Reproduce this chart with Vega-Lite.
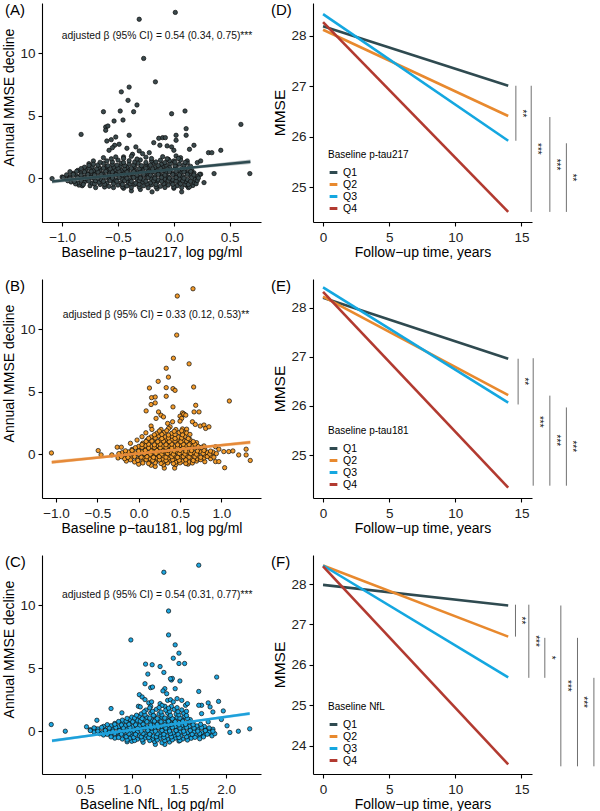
{
"$schema":"https://vega.github.io/schema/vega-lite/v6.json",
"background":"white",
"padding":{"left":2,"top":3,"right":0,"bottom":0},
"columns":2,
"spacing":{"row":57,"column":52},
"bounds":"flush",
"resolve":{"scale":{"x":"independent","y":"independent","color":"independent"},"legend":{"color":"independent"}},
"config":{
 "font":"Liberation Sans",
 "view":{"stroke":null},
 "axis":{"grid":false,"domainColor":"#000","domainWidth":1.1,"tickColor":"#000","tickWidth":1.1,"tickSize":4,"labelColor":"#222","labelFontSize":13.5,"titleFontSize":14,"titleFontWeight":"normal","titleColor":"#000","labelFont":"Liberation Sans","titleFont":"Liberation Sans","labelFlush":false},
 "axisX":{"labelPadding":4,"titlePadding":1.5},
 "axisY":{"labelPadding":3,"titlePadding":3,"titleFontSize":14},
 "legend":{"orient":"none","titleFontSize":10,"titleFontWeight":"normal","labelFontSize":10.5,"symbolType":"stroke","symbolStrokeWidth":3,"symbolSize":60,"rowPadding":-4.8,"titlePadding":7,"labelOffset":4,"titleColor":"#000","labelColor":"#000","padding":0},
 "title":{"fontSize":15,"fontWeight":"normal","anchor":"start","frame":"group","baseline":"top","offset":-15,"color":"#000"}
},
"datasets":{
"a":[
{"x":0.013,"y":13.25},{"x":-0.31,"y":12.7},{"x":-0.27,"y":9.57},{"x":-0.165,"y":7.7},{"x":-0.4,"y":7.28},{"x":-0.47,"y":6.9},{"x":-0.41,"y":6.22},{"x":-0.33,"y":5.85},{"x":-0.48,"y":5.37},{"x":-0.36,"y":5.31},{"x":-0.63,"y":5.31},{"x":0.1,"y":5.37},{"x":-0.02,"y":5.15},{"x":-0.455,"y":4.65},{"x":-0.535,"y":4.57},{"x":-0.61,"y":4.09},{"x":-0.59,"y":4.17},{"x":-0.61,"y":3.83},{"x":0.6,"y":4.3},{"x":-0.83,"y":3.5},{"x":-0.4,"y":3.43},{"x":0.11,"y":3.96},{"x":0.11,"y":3.43},{"x":0.02,"y":3.43},{"x":0.02,"y":3.03},{"x":-0.135,"y":3.19},{"x":-0.1,"y":3.24},{"x":-0.076,"y":3.24},{"x":-0.18,"y":2.84},{"x":-0.125,"y":2.63},{"x":-0.6,"y":2.97},{"x":-0.56,"y":3.08},{"x":-0.52,"y":3.29},{"x":-0.53,"y":2.63},{"x":-0.49,"y":2.71},{"x":-0.55,"y":2.44},{"x":-0.58,"y":2.23},{"x":-0.06,"y":2.58},{"x":-0.02,"y":2.5},{"x":0.0,"y":2.23},{"x":0.18,"y":2.63},{"x":0.14,"y":2.31},{"x":0.31,"y":2.04},{"x":0.34,"y":2.04},{"x":0.42,"y":2.23},{"x":-0.42,"y":2.39},{"x":-0.34,"y":2.5},{"x":-0.31,"y":2.18},{"x":-0.28,"y":1.96},{"x":-0.22,"y":2.04},{"x":-0.37,"y":1.91},{"x":-0.45,"y":1.7},{"x":-0.63,"y":1.64},{"x":-0.76,"y":1.16},{"x":-0.72,"y":1.38},{"x":-0.05,"y":1.51},{"x":0.0,"y":1.38},{"x":0.06,"y":1.64},{"x":0.12,"y":1.38},{"x":0.21,"y":1.25},{"x":0.24,"y":1.38},{"x":0.24,"y":0.32},{"x":0.36,"y":0.37},{"x":0.68,"y":0.37},{"x":-1.09,"y":-0.03},{"x":-1.0,"y":0.1},{"x":-0.38,"y":-1.01},{"x":-0.195,"y":-1.09},{"x":0.07,"y":-1.09},{"x":0.12,"y":-0.61},{"x":-0.82,"y":-0.6},{"x":-0.7,"y":-0.75},{"x":0.27,"y":-0.35},{"x":0.23,"y":0.3},
{"x":-0.45,"y":-0.8},{"x":-0.3,"y":-0.9},{"x":-0.15,"y":-0.85},{"x":0.0,"y":-0.8},{"x":0.13,"y":-0.75},
{"x":-0.85,"y":-0.55},{"x":-0.75,"y":-0.6},{"x":-0.66,"y":-0.5},{"x":-0.58,"y":-0.65},{"x":-0.5,"y":-0.55},{"x":-0.42,"y":-0.62},{"x":-0.35,"y":-0.5},{"x":-0.27,"y":-0.6},{"x":-0.2,"y":-0.52},{"x":-0.12,"y":-0.65},{"x":-0.05,"y":-0.55},{"x":0.03,"y":-0.6},{"x":0.1,"y":-0.5},{"x":0.17,"y":-0.58},
{"x":-0.92,"y":-0.3},{"x":-0.86,"y":-0.38},{"x":-0.8,"y":-0.3},{"x":-0.73,"y":-0.4},{"x":-0.67,"y":-0.32},{"x":-0.6,"y":-0.38},{"x":-0.54,"y":-0.28},{"x":-0.47,"y":-0.36},{"x":-0.41,"y":-0.3},{"x":-0.34,"y":-0.4},{"x":-0.28,"y":-0.3},{"x":-0.21,"y":-0.37},{"x":-0.15,"y":-0.3},{"x":-0.08,"y":-0.4},{"x":-0.02,"y":-0.32},{"x":0.05,"y":-0.36},{"x":0.11,"y":-0.28},{"x":0.18,"y":-0.35},
{"x":-0.96,"y":-0.05},{"x":-0.9,"y":-0.12},{"x":-0.83,"y":-0.08},{"x":-0.77,"y":-0.14},{"x":-0.71,"y":-0.06},{"x":-0.65,"y":-0.12},{"x":-0.58,"y":-0.05},{"x":-0.52,"y":-0.13},{"x":-0.46,"y":-0.07},{"x":-0.39,"y":-0.12},{"x":-0.33,"y":-0.05},{"x":-0.27,"y":-0.1},{"x":-0.2,"y":-0.06},{"x":-0.14,"y":-0.13},{"x":-0.08,"y":-0.07},{"x":-0.01,"y":-0.12},{"x":0.05,"y":-0.05},{"x":0.12,"y":-0.1},{"x":0.19,"y":-0.08},
{"x":-0.93,"y":0.12},{"x":-0.87,"y":0.18},{"x":-0.8,"y":0.1},{"x":-0.74,"y":0.2},{"x":-0.68,"y":0.13},{"x":-0.62,"y":0.18},{"x":-0.55,"y":0.1},{"x":-0.49,"y":0.2},{"x":-0.43,"y":0.14},{"x":-0.37,"y":0.19},{"x":-0.3,"y":0.11},{"x":-0.24,"y":0.2},{"x":-0.17,"y":0.13},{"x":-0.11,"y":0.18},{"x":-0.05,"y":0.1},{"x":0.02,"y":0.19},{"x":0.08,"y":0.12},{"x":0.15,"y":0.2},{"x":0.21,"y":0.15},
{"x":-0.9,"y":0.38},{"x":-0.83,"y":0.42},{"x":-0.77,"y":0.36},{"x":-0.71,"y":0.45},{"x":-0.64,"y":0.38},{"x":-0.58,"y":0.43},{"x":-0.52,"y":0.36},{"x":-0.45,"y":0.44},{"x":-0.39,"y":0.37},{"x":-0.33,"y":0.43},{"x":-0.26,"y":0.36},{"x":-0.2,"y":0.45},{"x":-0.14,"y":0.38},{"x":-0.07,"y":0.42},{"x":-0.01,"y":0.36},{"x":0.06,"y":0.44},{"x":0.12,"y":0.4},{"x":0.18,"y":0.43},
{"x":-0.86,"y":0.62},{"x":-0.79,"y":0.68},{"x":-0.72,"y":0.6},{"x":-0.66,"y":0.7},{"x":-0.6,"y":0.63},{"x":-0.53,"y":0.68},{"x":-0.47,"y":0.61},{"x":-0.41,"y":0.7},{"x":-0.35,"y":0.64},{"x":-0.28,"y":0.69},{"x":-0.22,"y":0.62},{"x":-0.16,"y":0.7},{"x":-0.09,"y":0.63},{"x":-0.03,"y":0.68},{"x":0.04,"y":0.62},{"x":0.1,"y":0.7},{"x":0.16,"y":0.65},
{"x":-0.8,"y":0.88},{"x":-0.73,"y":0.92},{"x":-0.67,"y":0.86},{"x":-0.6,"y":0.94},{"x":-0.54,"y":0.88},{"x":-0.48,"y":0.93},{"x":-0.42,"y":0.86},{"x":-0.35,"y":0.95},{"x":-0.29,"y":0.88},{"x":-0.23,"y":0.93},{"x":-0.17,"y":0.87},{"x":-0.1,"y":0.94},{"x":-0.04,"y":0.88},{"x":0.02,"y":0.93},{"x":0.09,"y":0.87},{"x":0.15,"y":0.95},
{"x":-0.72,"y":1.12},{"x":-0.63,"y":1.18},{"x":-0.55,"y":1.1},{"x":-0.47,"y":1.2},{"x":-0.4,"y":1.13},{"x":-0.32,"y":1.19},{"x":-0.25,"y":1.11},{"x":-0.18,"y":1.2},{"x":-0.11,"y":1.14},{"x":-0.03,"y":1.18},{"x":0.05,"y":1.12},{"x":0.12,"y":1.2},
{"x":-0.6,"y":1.38},{"x":-0.5,"y":1.45},{"x":-0.4,"y":1.4},{"x":-0.3,"y":1.46},{"x":-0.2,"y":1.38},{"x":-0.12,"y":1.44},{"x":-0.04,"y":1.4},{"x":0.06,"y":1.45},
{"x":-0.52,"y":1.7},{"x":-0.38,"y":1.75},{"x":-0.25,"y":1.68},{"x":-0.1,"y":1.72},{"x":0.02,"y":1.78},
{"x":-0.62,"y":-0.7},{"x":-0.54,"y":-0.75},{"x":-0.46,"y":-0.69},{"x":-0.38,"y":-0.74},{"x":-0.31,"y":-0.7},{"x":-0.23,"y":-0.76},{"x":-0.16,"y":-0.69},{"x":-0.08,"y":-0.74},{"x":0.0,"y":-0.7},{"x":0.07,"y":-0.75},{"x":0.14,"y":-0.69},
{"x":-0.88,"y":-0.45},{"x":-0.81,"y":-0.5},{"x":-0.71,"y":-0.44},{"x":-0.62,"y":-0.49},{"x":-0.54,"y":-0.45},{"x":-0.46,"y":-0.5},{"x":-0.39,"y":-0.44},{"x":-0.31,"y":-0.49},{"x":-0.24,"y":-0.45},{"x":-0.16,"y":-0.5},{"x":-0.09,"y":-0.44},{"x":-0.01,"y":-0.49},{"x":0.06,"y":-0.45},{"x":0.13,"y":-0.5},{"x":0.2,"y":-0.44},
{"x":-0.95,"y":-0.2},{"x":-0.89,"y":-0.25},{"x":-0.83,"y":-0.19},{"x":-0.76,"y":-0.24},{"x":-0.7,"y":-0.2},{"x":-0.63,"y":-0.25},{"x":-0.57,"y":-0.19},{"x":-0.51,"y":-0.24},{"x":-0.44,"y":-0.2},{"x":-0.38,"y":-0.25},{"x":-0.31,"y":-0.19},{"x":-0.25,"y":-0.24},{"x":-0.18,"y":-0.2},{"x":-0.11,"y":-0.25},{"x":-0.05,"y":-0.19},{"x":0.02,"y":-0.24},{"x":0.08,"y":-0.2},{"x":0.15,"y":-0.25},{"x":0.21,"y":-0.19},
{"x":-0.99,"y":0.05},{"x":-0.93,"y":0.0},{"x":-0.86,"y":0.06},{"x":-0.8,"y":0.01},{"x":-0.74,"y":0.05},{"x":-0.68,"y":0.0},{"x":-0.61,"y":0.06},{"x":-0.55,"y":0.01},{"x":-0.49,"y":0.05},{"x":-0.42,"y":0.0},{"x":-0.36,"y":0.06},{"x":-0.3,"y":0.01},{"x":-0.23,"y":0.05},{"x":-0.17,"y":0.0},{"x":-0.11,"y":0.06},{"x":-0.04,"y":0.01},{"x":0.02,"y":0.05},{"x":0.09,"y":0.0},{"x":0.16,"y":0.06},{"x":0.22,"y":0.02},
{"x":-0.96,"y":0.27},{"x":-0.9,"y":0.3},{"x":-0.83,"y":0.25},{"x":-0.77,"y":0.3},{"x":-0.71,"y":0.26},{"x":-0.65,"y":0.3},{"x":-0.58,"y":0.25},{"x":-0.52,"y":0.29},{"x":-0.46,"y":0.26},{"x":-0.4,"y":0.3},{"x":-0.33,"y":0.25},{"x":-0.27,"y":0.29},{"x":-0.21,"y":0.26},{"x":-0.14,"y":0.3},{"x":-0.08,"y":0.25},{"x":-0.01,"y":0.29},{"x":0.05,"y":0.26},{"x":0.12,"y":0.3},{"x":0.18,"y":0.26},
{"x":-0.93,"y":0.52},{"x":-0.87,"y":0.55},{"x":-0.8,"y":0.5},{"x":-0.74,"y":0.55},{"x":-0.68,"y":0.51},{"x":-0.61,"y":0.55},{"x":-0.55,"y":0.5},{"x":-0.49,"y":0.54},{"x":-0.42,"y":0.51},{"x":-0.36,"y":0.55},{"x":-0.3,"y":0.5},{"x":-0.23,"y":0.54},{"x":-0.17,"y":0.51},{"x":-0.11,"y":0.55},{"x":-0.04,"y":0.5},{"x":0.02,"y":0.54},{"x":0.09,"y":0.51},{"x":0.15,"y":0.55},
{"x":-0.83,"y":0.77},{"x":-0.76,"y":0.8},{"x":-0.69,"y":0.75},{"x":-0.63,"y":0.8},{"x":-0.57,"y":0.76},{"x":-0.5,"y":0.8},{"x":-0.44,"y":0.75},{"x":-0.38,"y":0.79},{"x":-0.31,"y":0.76},{"x":-0.25,"y":0.8},{"x":-0.19,"y":0.75},{"x":-0.12,"y":0.79},{"x":-0.06,"y":0.76},{"x":0.01,"y":0.8},{"x":0.07,"y":0.75},{"x":0.13,"y":0.79},
{"x":-0.76,"y":1.02},{"x":-0.68,"y":1.05},{"x":-0.59,"y":1.0},{"x":-0.51,"y":1.04},{"x":-0.44,"y":1.01},{"x":-0.36,"y":1.05},{"x":-0.29,"y":1.0},{"x":-0.21,"y":1.04},{"x":-0.14,"y":1.01},{"x":-0.07,"y":1.05},{"x":0.01,"y":1.0},{"x":0.09,"y":1.04},
{"x":-0.66,"y":1.27},{"x":-0.55,"y":1.3},{"x":-0.45,"y":1.25},{"x":-0.35,"y":1.3},{"x":-0.25,"y":1.26},{"x":-0.16,"y":1.3},{"x":-0.08,"y":1.25},{"x":0.01,"y":1.29},{"x":0.1,"y":1.26},
{"x":-0.56,"y":1.55},{"x":-0.45,"y":1.58},{"x":-0.33,"y":1.53},{"x":-0.2,"y":1.57},{"x":-0.06,"y":1.55},{"x":0.04,"y":1.58}
],
"b":[
{"x":0.657,"y":13.22},{"x":0.467,"y":12.64},{"x":0.46,"y":9.52},{"x":0.42,"y":7.67},{"x":0.61,"y":7.22},{"x":0.333,"y":6.87},{"x":0.36,"y":6.16},{"x":0.236,"y":5.82},{"x":0.665,"y":5.37},{"x":0.13,"y":5.29},{"x":0.333,"y":5.32},{"x":0.415,"y":5.24},{"x":0.44,"y":5.1},{"x":0.333,"y":4.63},{"x":0.156,"y":4.52},{"x":0.2,"y":4.57},{"x":0.15,"y":3.97},{"x":0.2,"y":4.1},{"x":1.097,"y":4.25},{"x":0.09,"y":3.46},{"x":0.415,"y":3.78},{"x":0.69,"y":3.91},{"x":0.67,"y":3.38},{"x":0.73,"y":3.38},{"x":0.53,"y":3.3},{"x":0.55,"y":3.2},{"x":0.24,"y":3.38},{"x":0.27,"y":3.12},{"x":0.3,"y":2.98},{"x":0.21,"y":2.86},{"x":0.5,"y":3.04},{"x":0.52,"y":2.86},{"x":0.545,"y":3.2},{"x":0.57,"y":3.12},{"x":0.5,"y":2.64},{"x":0.65,"y":2.59},{"x":0.685,"y":2.38},{"x":0.745,"y":2.25},{"x":0.79,"y":2.33},{"x":0.81,"y":2.06},{"x":0.85,"y":2.19},{"x":0.58,"y":2.0},{"x":0.55,"y":1.7},{"x":0.35,"y":2.46},{"x":0.38,"y":2.19},{"x":0.41,"y":2.59},{"x":0.15,"y":2.25},{"x":0.16,"y":1.98},{"x":0.087,"y":1.71},{"x":-0.02,"y":1.13},{"x":0.04,"y":1.4},{"x":-0.1,"y":0.87},{"x":-0.26,"y":0.56},{"x":-0.21,"y":0.56},{"x":-0.49,"y":0.29},{"x":-0.455,"y":-0.05},{"x":-0.325,"y":-0.05},{"x":-1.056,"y":0.1},{"x":0.93,"y":0.6},{"x":0.97,"y":0.4},{"x":1.03,"y":0.21},{"x":1.09,"y":0.21},{"x":1.14,"y":0.26},{"x":1.21,"y":-0.06},{"x":1.3,"y":0.4},{"x":1.3,"y":-0.06},{"x":1.35,"y":-0.5},{"x":1.04,"y":-1.08},{"x":0.93,"y":-0.59},{"x":0.97,"y":-0.59},{"x":0.85,"y":-0.19},{"x":0.79,"y":0.66},{"x":0.2,"y":-0.98},{"x":0.435,"y":-1.11},{"x":0.59,"y":-0.77},{"x":0.455,"y":-0.59},{"x":0.31,"y":-1.11},
{"x":0.0,"y":-0.8},{"x":0.15,"y":-0.88},{"x":0.3,"y":-0.85},{"x":0.45,"y":-0.82},{"x":0.6,"y":-0.78},
{"x":-0.15,"y":-0.55},{"x":-0.05,"y":-0.62},{"x":0.05,"y":-0.55},{"x":0.13,"y":-0.63},{"x":0.21,"y":-0.56},{"x":0.29,"y":-0.62},{"x":0.37,"y":-0.55},{"x":0.45,"y":-0.63},{"x":0.53,"y":-0.57},{"x":0.61,"y":-0.62},{"x":0.7,"y":-0.55},{"x":0.8,"y":-0.6},
{"x":-0.25,"y":-0.3},{"x":-0.17,"y":-0.36},{"x":-0.09,"y":-0.3},{"x":-0.01,"y":-0.38},{"x":0.07,"y":-0.31},{"x":0.14,"y":-0.37},{"x":0.22,"y":-0.3},{"x":0.29,"y":-0.38},{"x":0.36,"y":-0.31},{"x":0.43,"y":-0.37},{"x":0.5,"y":-0.3},{"x":0.57,"y":-0.38},{"x":0.64,"y":-0.31},{"x":0.71,"y":-0.37},{"x":0.79,"y":-0.3},{"x":0.87,"y":-0.36},
{"x":-0.22,"y":-0.06},{"x":-0.14,"y":-0.12},{"x":-0.06,"y":-0.05},{"x":0.02,"y":-0.13},{"x":0.09,"y":-0.07},{"x":0.16,"y":-0.12},{"x":0.23,"y":-0.05},{"x":0.3,"y":-0.13},{"x":0.37,"y":-0.06},{"x":0.44,"y":-0.12},{"x":0.51,"y":-0.05},{"x":0.58,"y":-0.12},{"x":0.65,"y":-0.07},{"x":0.72,"y":-0.13},{"x":0.8,"y":-0.06},{"x":0.88,"y":-0.1},
{"x":-0.2,"y":0.12},{"x":-0.12,"y":0.18},{"x":-0.04,"y":0.11},{"x":0.04,"y":0.19},{"x":0.11,"y":0.13},{"x":0.18,"y":0.2},{"x":0.25,"y":0.11},{"x":0.32,"y":0.19},{"x":0.39,"y":0.12},{"x":0.46,"y":0.2},{"x":0.53,"y":0.13},{"x":0.6,"y":0.18},{"x":0.67,"y":0.11},{"x":0.75,"y":0.19},{"x":0.83,"y":0.13},{"x":0.9,"y":0.17},
{"x":-0.08,"y":0.38},{"x":0.0,"y":0.43},{"x":0.08,"y":0.36},{"x":0.15,"y":0.44},{"x":0.22,"y":0.37},{"x":0.29,"y":0.43},{"x":0.36,"y":0.36},{"x":0.43,"y":0.44},{"x":0.5,"y":0.37},{"x":0.57,"y":0.43},{"x":0.64,"y":0.36},{"x":0.72,"y":0.42},{"x":0.8,"y":0.38},
{"x":0.0,"y":0.62},{"x":0.08,"y":0.68},{"x":0.15,"y":0.61},{"x":0.22,"y":0.69},{"x":0.29,"y":0.62},{"x":0.36,"y":0.68},{"x":0.43,"y":0.61},{"x":0.5,"y":0.7},{"x":0.57,"y":0.63},{"x":0.64,"y":0.69},{"x":0.72,"y":0.62},
{"x":0.05,"y":0.88},{"x":0.13,"y":0.94},{"x":0.2,"y":0.87},{"x":0.27,"y":0.93},{"x":0.34,"y":0.86},{"x":0.41,"y":0.95},{"x":0.48,"y":0.88},{"x":0.55,"y":0.93},{"x":0.62,"y":0.87},{"x":0.7,"y":0.92},
{"x":0.1,"y":1.12},{"x":0.18,"y":1.19},{"x":0.26,"y":1.11},{"x":0.33,"y":1.2},{"x":0.4,"y":1.13},{"x":0.47,"y":1.18},{"x":0.54,"y":1.11},{"x":0.62,"y":1.18},
{"x":0.15,"y":1.38},{"x":0.24,"y":1.45},{"x":0.32,"y":1.38},{"x":0.4,"y":1.44},{"x":0.48,"y":1.37},{"x":0.56,"y":1.43},
{"x":0.22,"y":1.68},{"x":0.31,"y":1.74},{"x":0.4,"y":1.67},{"x":0.49,"y":1.73},{"x":0.58,"y":1.69},
{"x":0.27,"y":1.98},{"x":0.36,"y":2.05},{"x":0.45,"y":1.97},{"x":0.53,"y":2.02},
{"x":0.05,"y":-0.7},{"x":0.12,"y":-0.74},{"x":0.2,"y":-0.69},{"x":0.27,"y":-0.74},{"x":0.35,"y":-0.7},{"x":0.42,"y":-0.75},{"x":0.5,"y":-0.69},{"x":0.57,"y":-0.74},{"x":0.65,"y":-0.7},
{"x":-0.1,"y":-0.45},{"x":-0.01,"y":-0.5},{"x":0.09,"y":-0.44},{"x":0.17,"y":-0.49},{"x":0.25,"y":-0.45},{"x":0.33,"y":-0.5},{"x":0.41,"y":-0.44},{"x":0.49,"y":-0.49},{"x":0.57,"y":-0.45},{"x":0.66,"y":-0.5},{"x":0.75,"y":-0.44},
{"x":-0.21,"y":-0.2},{"x":-0.13,"y":-0.25},{"x":-0.05,"y":-0.19},{"x":0.03,"y":-0.24},{"x":0.1,"y":-0.2},{"x":0.18,"y":-0.25},{"x":0.25,"y":-0.19},{"x":0.33,"y":-0.24},{"x":0.4,"y":-0.2},{"x":0.47,"y":-0.25},{"x":0.54,"y":-0.19},{"x":0.61,"y":-0.24},{"x":0.68,"y":-0.2},{"x":0.75,"y":-0.25},{"x":0.83,"y":-0.19},{"x":0.91,"y":-0.24},
{"x":-0.24,"y":0.05},{"x":-0.16,"y":0.0},{"x":-0.08,"y":0.06},{"x":0.0,"y":0.01},{"x":0.07,"y":0.05},{"x":0.14,"y":0.0},{"x":0.21,"y":0.06},{"x":0.28,"y":0.01},{"x":0.35,"y":0.05},{"x":0.42,"y":0.0},{"x":0.49,"y":0.06},{"x":0.56,"y":0.01},{"x":0.63,"y":0.05},{"x":0.7,"y":0.0},{"x":0.78,"y":0.06},{"x":0.86,"y":0.01},{"x":0.94,"y":0.05},
{"x":-0.16,"y":0.27},{"x":-0.08,"y":0.3},{"x":0.0,"y":0.25},{"x":0.08,"y":0.3},{"x":0.15,"y":0.26},{"x":0.22,"y":0.3},{"x":0.29,"y":0.25},{"x":0.36,"y":0.29},{"x":0.43,"y":0.26},{"x":0.5,"y":0.3},{"x":0.57,"y":0.25},{"x":0.64,"y":0.29},{"x":0.71,"y":0.26},{"x":0.79,"y":0.3},{"x":0.87,"y":0.25},
{"x":-0.04,"y":0.52},{"x":0.04,"y":0.55},{"x":0.12,"y":0.5},{"x":0.19,"y":0.55},{"x":0.26,"y":0.51},{"x":0.33,"y":0.55},{"x":0.4,"y":0.5},{"x":0.47,"y":0.54},{"x":0.54,"y":0.51},{"x":0.61,"y":0.55},{"x":0.68,"y":0.5},{"x":0.76,"y":0.54},
{"x":0.04,"y":0.77},{"x":0.12,"y":0.8},{"x":0.19,"y":0.75},{"x":0.26,"y":0.8},{"x":0.33,"y":0.76},{"x":0.4,"y":0.8},{"x":0.47,"y":0.75},{"x":0.54,"y":0.79},{"x":0.61,"y":0.76},{"x":0.68,"y":0.8},
{"x":0.09,"y":1.02},{"x":0.16,"y":1.05},{"x":0.23,"y":1.0},{"x":0.3,"y":1.04},{"x":0.37,"y":1.01},{"x":0.44,"y":1.05},{"x":0.51,"y":1.0},{"x":0.58,"y":1.04},{"x":0.66,"y":1.01},
{"x":0.12,"y":1.27},{"x":0.2,"y":1.3},{"x":0.28,"y":1.25},{"x":0.36,"y":1.3},{"x":0.44,"y":1.26},{"x":0.52,"y":1.3},{"x":0.6,"y":1.25},
{"x":0.19,"y":1.55},{"x":0.28,"y":1.58},{"x":0.36,"y":1.53},{"x":0.44,"y":1.57},{"x":0.53,"y":1.55},{"x":0.62,"y":1.58},
{"x":0.25,"y":1.85},{"x":0.34,"y":1.88},{"x":0.43,"y":1.83},{"x":0.52,"y":1.87}
],
"c":[
{"x":1.71,"y":13.19},{"x":1.34,"y":12.63},{"x":1.39,"y":9.55},{"x":1.39,"y":7.65},{"x":0.99,"y":7.25},{"x":1.46,"y":6.86},{"x":1.5,"y":6.2},{"x":1.44,"y":5.8},{"x":1.146,"y":5.33},{"x":1.216,"y":5.28},{"x":1.3,"y":5.14},{"x":1.5,"y":5.38},{"x":1.56,"y":5.38},{"x":1.17,"y":4.54},{"x":1.34,"y":4.67},{"x":1.42,"y":4.07},{"x":1.43,"y":4.19},{"x":1.9,"y":4.3},{"x":0.146,"y":0.53},{"x":0.295,"y":0.0},{"x":2.25,"y":0.19},{"x":2.13,"y":0.0},{"x":2.04,"y":-0.1},{"x":2.01,"y":0.43},{"x":1.95,"y":0.93},{"x":1.97,"y":1.61},{"x":1.92,"y":2.37},{"x":1.81,"y":2.25},{"x":1.83,"y":1.93},{"x":1.86,"y":1.53},{"x":1.81,"y":0.74},{"x":1.83,"y":0.13},{"x":1.82,"y":-0.18},{"x":1.74,"y":2.06},{"x":1.71,"y":2.06},{"x":1.74,"y":1.4},{"x":1.71,"y":3.16},{"x":1.72,"y":-0.4},{"x":1.57,"y":2.06},{"x":1.59,"y":2.19},{"x":1.51,"y":3.99},{"x":1.41,"y":4.17},{"x":1.35,"y":3.38},{"x":1.33,"y":3.2},{"x":1.37,"y":2.98},{"x":1.46,"y":3.38},{"x":1.2,"y":3.46},{"x":1.22,"y":3.51},{"x":1.14,"y":3.77},{"x":1.08,"y":2.9},{"x":1.11,"y":2.72},{"x":1.14,"y":2.51},{"x":1.07,"y":1.98},{"x":1.09,"y":1.93},{"x":0.78,"y":1.8},{"x":0.63,"y":0.87},{"x":0.52,"y":0.35},{"x":0.61,"y":0.21},{"x":0.895,"y":1.46},{"x":0.95,"y":-0.84},{"x":1.25,"y":-1.05},{"x":1.35,"y":-1.05},{"x":1.32,"y":-0.92},{"x":1.18,"y":2.25},{"x":1.21,"y":2.33},{"x":1.3,"y":2.19},{"x":1.35,"y":1.98},{"x":1.38,"y":2.45},{"x":1.41,"y":2.5},{"x":1.44,"y":2.33},{"x":1.48,"y":2.59},{"x":1.53,"y":2.45},
{"x":1.0,"y":-0.8},{"x":1.12,"y":-0.88},{"x":1.24,"y":-0.82},{"x":1.4,"y":-0.86},{"x":1.5,"y":-0.78},
{"x":0.82,"y":-0.55},{"x":0.9,"y":-0.62},{"x":0.98,"y":-0.56},{"x":1.06,"y":-0.63},{"x":1.14,"y":-0.55},{"x":1.22,"y":-0.62},{"x":1.3,"y":-0.56},{"x":1.38,"y":-0.63},{"x":1.46,"y":-0.55},{"x":1.54,"y":-0.62},{"x":1.63,"y":-0.56},{"x":1.72,"y":-0.6},
{"x":0.7,"y":-0.3},{"x":0.78,"y":-0.37},{"x":0.86,"y":-0.31},{"x":0.93,"y":-0.38},{"x":1.0,"y":-0.3},{"x":1.08,"y":-0.37},{"x":1.15,"y":-0.31},{"x":1.23,"y":-0.38},{"x":1.3,"y":-0.3},{"x":1.37,"y":-0.37},{"x":1.45,"y":-0.31},{"x":1.52,"y":-0.38},{"x":1.6,"y":-0.3},{"x":1.68,"y":-0.36},{"x":1.76,"y":-0.32},{"x":1.85,"y":-0.37},
{"x":0.6,"y":-0.06},{"x":0.68,"y":-0.12},{"x":0.76,"y":-0.05},{"x":0.84,"y":-0.13},{"x":0.91,"y":-0.07},{"x":0.99,"y":-0.12},{"x":1.06,"y":-0.05},{"x":1.14,"y":-0.13},{"x":1.21,"y":-0.06},{"x":1.29,"y":-0.12},{"x":1.36,"y":-0.05},{"x":1.44,"y":-0.13},{"x":1.51,"y":-0.07},{"x":1.59,"y":-0.12},{"x":1.66,"y":-0.05},{"x":1.74,"y":-0.11},{"x":1.82,"y":-0.07},
{"x":0.56,"y":0.12},{"x":0.64,"y":0.18},{"x":0.72,"y":0.11},{"x":0.8,"y":0.19},{"x":0.87,"y":0.13},{"x":0.95,"y":0.2},{"x":1.02,"y":0.11},{"x":1.1,"y":0.19},{"x":1.17,"y":0.12},{"x":1.25,"y":0.2},{"x":1.32,"y":0.13},{"x":1.4,"y":0.18},{"x":1.47,"y":0.11},{"x":1.55,"y":0.19},{"x":1.62,"y":0.13},{"x":1.7,"y":0.18},{"x":1.78,"y":0.12},{"x":1.86,"y":0.16},
{"x":0.7,"y":0.38},{"x":0.78,"y":0.43},{"x":0.86,"y":0.36},{"x":0.93,"y":0.44},{"x":1.01,"y":0.37},{"x":1.08,"y":0.43},{"x":1.16,"y":0.36},{"x":1.23,"y":0.44},{"x":1.31,"y":0.37},{"x":1.38,"y":0.43},{"x":1.46,"y":0.36},{"x":1.53,"y":0.44},{"x":1.61,"y":0.38},{"x":1.69,"y":0.42},{"x":1.77,"y":0.37},
{"x":0.82,"y":0.62},{"x":0.9,"y":0.68},{"x":0.97,"y":0.61},{"x":1.05,"y":0.69},{"x":1.12,"y":0.62},{"x":1.2,"y":0.68},{"x":1.27,"y":0.61},{"x":1.35,"y":0.7},{"x":1.42,"y":0.63},{"x":1.5,"y":0.69},{"x":1.57,"y":0.62},{"x":1.65,"y":0.68},
{"x":0.9,"y":0.88},{"x":0.98,"y":0.94},{"x":1.06,"y":0.87},{"x":1.14,"y":0.93},{"x":1.22,"y":0.86},{"x":1.3,"y":0.95},{"x":1.38,"y":0.88},{"x":1.46,"y":0.93},{"x":1.54,"y":0.87},{"x":1.62,"y":0.92},
{"x":1.0,"y":1.12},{"x":1.08,"y":1.19},{"x":1.16,"y":1.11},{"x":1.24,"y":1.2},{"x":1.32,"y":1.13},{"x":1.4,"y":1.18},{"x":1.48,"y":1.11},{"x":1.56,"y":1.18},
{"x":1.1,"y":1.38},{"x":1.2,"y":1.45},{"x":1.29,"y":1.38},{"x":1.38,"y":1.44},{"x":1.47,"y":1.37},{"x":1.55,"y":1.43},
{"x":1.15,"y":1.68},{"x":1.26,"y":1.74},{"x":1.36,"y":1.67},{"x":1.45,"y":1.73},{"x":1.53,"y":1.69},
{"x":1.2,"y":1.98},{"x":1.32,"y":2.05},{"x":1.42,"y":1.97},
{"x":0.95,"y":-0.7},{"x":1.03,"y":-0.74},{"x":1.11,"y":-0.69},{"x":1.19,"y":-0.74},{"x":1.27,"y":-0.7},{"x":1.35,"y":-0.75},{"x":1.43,"y":-0.69},{"x":1.51,"y":-0.74},{"x":1.59,"y":-0.7},
{"x":0.78,"y":-0.45},{"x":0.86,"y":-0.5},{"x":0.94,"y":-0.44},{"x":1.02,"y":-0.49},{"x":1.1,"y":-0.45},{"x":1.18,"y":-0.5},{"x":1.26,"y":-0.44},{"x":1.34,"y":-0.49},{"x":1.42,"y":-0.45},{"x":1.5,"y":-0.5},{"x":1.58,"y":-0.44},{"x":1.67,"y":-0.49},{"x":1.76,"y":-0.45},
{"x":0.66,"y":-0.2},{"x":0.74,"y":-0.25},{"x":0.82,"y":-0.19},{"x":0.89,"y":-0.24},{"x":0.97,"y":-0.2},{"x":1.04,"y":-0.25},{"x":1.12,"y":-0.19},{"x":1.19,"y":-0.24},{"x":1.27,"y":-0.2},{"x":1.34,"y":-0.25},{"x":1.41,"y":-0.19},{"x":1.49,"y":-0.24},{"x":1.56,"y":-0.2},{"x":1.64,"y":-0.25},{"x":1.72,"y":-0.19},{"x":1.8,"y":-0.24},{"x":1.88,"y":-0.2},
{"x":0.56,"y":0.05},{"x":0.64,"y":0.0},{"x":0.72,"y":0.06},{"x":0.8,"y":0.01},{"x":0.87,"y":0.05},{"x":0.95,"y":0.0},{"x":1.02,"y":0.06},{"x":1.1,"y":0.01},{"x":1.17,"y":0.05},{"x":1.25,"y":0.0},{"x":1.32,"y":0.06},{"x":1.4,"y":0.01},{"x":1.47,"y":0.05},{"x":1.55,"y":0.0},{"x":1.62,"y":0.06},{"x":1.7,"y":0.01},{"x":1.78,"y":0.05},{"x":1.86,"y":0.0},
{"x":0.6,"y":0.27},{"x":0.68,"y":0.3},{"x":0.76,"y":0.25},{"x":0.83,"y":0.3},{"x":0.91,"y":0.26},{"x":0.98,"y":0.3},{"x":1.06,"y":0.25},{"x":1.13,"y":0.29},{"x":1.21,"y":0.26},{"x":1.28,"y":0.3},{"x":1.36,"y":0.25},{"x":1.43,"y":0.29},{"x":1.51,"y":0.26},{"x":1.58,"y":0.3},{"x":1.66,"y":0.25},{"x":1.74,"y":0.29},{"x":1.82,"y":0.26},
{"x":0.74,"y":0.52},{"x":0.82,"y":0.55},{"x":0.89,"y":0.5},{"x":0.97,"y":0.55},{"x":1.04,"y":0.51},{"x":1.12,"y":0.55},{"x":1.2,"y":0.5},{"x":1.27,"y":0.54},{"x":1.35,"y":0.51},{"x":1.42,"y":0.55},{"x":1.5,"y":0.5},{"x":1.57,"y":0.54},{"x":1.65,"y":0.51},{"x":1.73,"y":0.55},
{"x":0.86,"y":0.77},{"x":0.94,"y":0.8},{"x":1.01,"y":0.75},{"x":1.09,"y":0.8},{"x":1.16,"y":0.76},{"x":1.24,"y":0.8},{"x":1.31,"y":0.75},{"x":1.39,"y":0.79},{"x":1.46,"y":0.76},{"x":1.54,"y":0.8},{"x":1.61,"y":0.75},
{"x":0.95,"y":1.02},{"x":1.03,"y":1.05},{"x":1.11,"y":1.0},{"x":1.19,"y":1.04},{"x":1.27,"y":1.01},{"x":1.35,"y":1.05},{"x":1.43,"y":1.0},{"x":1.51,"y":1.04},{"x":1.59,"y":1.01},
{"x":1.05,"y":1.27},{"x":1.14,"y":1.3},{"x":1.23,"y":1.25},{"x":1.32,"y":1.3},{"x":1.41,"y":1.26},{"x":1.5,"y":1.3},{"x":1.58,"y":1.25},
{"x":1.13,"y":1.55},{"x":1.22,"y":1.58},{"x":1.31,"y":1.53},{"x":1.4,"y":1.57},{"x":1.49,"y":1.55},{"x":1.58,"y":1.58},
{"x":1.19,"y":1.85},{"x":1.29,"y":1.88},{"x":1.39,"y":1.83},{"x":1.48,"y":1.87}
],
"fit":[
{"p":"A","x":-1.09,"fit":-0.27,"lo":-0.43,"hi":-0.11},{"p":"A","x":-0.2,"fit":0.53,"lo":0.46,"hi":0.6},{"p":"A","x":0.685,"fit":1.32,"lo":1.14,"hi":1.5},
{"p":"B","x":-1.052,"fit":-0.64,"lo":-0.79,"hi":-0.49},{"p":"B","x":0.3,"fit":0.255,"lo":0.195,"hi":0.315},{"p":"B","x":1.35,"fit":0.95,"lo":0.8,"hi":1.1},
{"p":"C","x":0.154,"fit":-0.76,"lo":-0.89,"hi":-0.63},{"p":"C","x":1.2,"fit":0.318,"lo":0.268,"hi":0.368},{"p":"C","x":2.25,"fit":1.4,"lo":1.27,"hi":1.53}
],
"ann":[
{"p":"A","x":-0.15,"y":11.37,"t":"adjusted β (95% CI) = 0.54 (0.34, 0.75)***"},
{"p":"B","x":0.21,"y":11.1,"t":"adjusted β (95% CI) = 0.33 (0.12, 0.53)**"},
{"p":"C","x":1.27,"y":10.8,"t":"adjusted β (95% CI) = 0.54 (0.31, 0.77)***"}
],
"lines":[
{"p":"D","q":"Q1","t":0,"m":28.19},{"p":"D","q":"Q1","t":14,"m":27.01},
{"p":"D","q":"Q2","t":0,"m":28.12},{"p":"D","q":"Q2","t":14,"m":26.41},
{"p":"D","q":"Q3","t":0,"m":28.43},{"p":"D","q":"Q3","t":14,"m":25.92},
{"p":"D","q":"Q4","t":0,"m":28.27},{"p":"D","q":"Q4","t":14,"m":24.51},
{"p":"E","q":"Q1","t":0,"m":28.2},{"p":"E","q":"Q1","t":14,"m":26.96},
{"p":"E","q":"Q2","t":0,"m":28.22},{"p":"E","q":"Q2","t":14,"m":26.22},
{"p":"E","q":"Q3","t":0,"m":28.41},{"p":"E","q":"Q3","t":14,"m":26.07},
{"p":"E","q":"Q4","t":0,"m":28.32},{"p":"E","q":"Q4","t":14,"m":24.34},
{"p":"F","q":"Q1","t":0,"m":27.98},{"p":"F","q":"Q1","t":14,"m":27.47},
{"p":"F","q":"Q2","t":0,"m":28.46},{"p":"F","q":"Q2","t":14,"m":26.7},
{"p":"F","q":"Q3","t":0,"m":28.46},{"p":"F","q":"Q3","t":14,"m":25.69},
{"p":"F","q":"Q4","t":0,"m":28.44},{"p":"F","q":"Q4","t":14,"m":23.54}
],
"brk":[
{"p":"D","x":14.58,"y1":27.01,"y2":25.92,"ym":26.46,"s":"**"},
{"p":"D","x":15.74,"y1":27.01,"y2":24.51,"ym":25.76,"s":"***"},
{"p":"D","x":17.15,"y1":26.39,"y2":24.51,"ym":25.45,"s":"***"},
{"p":"D","x":18.4,"y1":25.87,"y2":24.51,"ym":25.19,"s":"**"},
{"p":"E","x":14.75,"y1":26.96,"y2":26.03,"ym":26.5,"s":"**"},
{"p":"E","x":15.89,"y1":26.97,"y2":24.38,"ym":25.68,"s":"***"},
{"p":"E","x":17.15,"y1":26.21,"y2":24.38,"ym":25.3,"s":"***"},
{"p":"E","x":18.4,"y1":25.97,"y2":24.38,"ym":25.18,"s":"***"},
{"p":"F","x":14.55,"y1":27.49,"y2":26.7,"ym":27.1,"s":"**"},
{"p":"F","x":15.56,"y1":27.49,"y2":25.68,"ym":26.59,"s":"***"},
{"p":"F","x":16.77,"y1":26.67,"y2":25.68,"ym":26.18,"s":"*"},
{"p":"F","x":17.98,"y1":27.47,"y2":23.49,"ym":25.48,"s":"***"},
{"p":"F","x":19.24,"y1":26.67,"y2":23.49,"ym":25.08,"s":"***"},
{"p":"F","x":20.48,"y1":25.68,"y2":23.49,"ym":24.59,"s":"***"}
]
},
"concat":[
{"width":219,"height":219,"title":{"text":"(A)","dx":-37},
 "layer":[
  {"data":{"name":"a"},"mark":{"type":"circle","size":19,"fill":"#3A494C","stroke":"#0d0d0d","strokeWidth":0.7,"opacity":1},
   "encoding":{"x":{"field":"x","type":"quantitative","scale":{"domain":[-1.18,0.78],"nice":false,"zero":false},"axis":{"values":[-1,-0.5,0,0.5],"format":".1f"},"title":"Baseline p−tau217, log pg/ml"},
   "y":{"field":"y","type":"quantitative","scale":{"domain":[-3.5,14],"nice":false,"zero":false},"axis":{"values":[0,5,10],"titleY":94},"title":"Annual MMSE decline"}}},
  {"data":{"name":"fit"},"transform":[{"filter":"datum.p==='A'"}],"mark":{"type":"area","color":"#7d8c90","opacity":0.55},
   "encoding":{"x":{"field":"x","type":"quantitative","scale":{"domain":[-1.18,0.78],"nice":false,"zero":false},"title":"Baseline p−tau217, log pg/ml"},
   "y":{"field":"lo","type":"quantitative","scale":{"domain":[-3.5,14],"nice":false,"zero":false},"title":"Annual MMSE decline"},"y2":{"field":"hi"}}},
  {"data":{"name":"fit"},"transform":[{"filter":"datum.p==='A'"}],"mark":{"type":"line","color":"#2E4A50","strokeWidth":2.6},
   "encoding":{"x":{"field":"x","type":"quantitative","scale":{"domain":[-1.18,0.78],"nice":false,"zero":false},"title":"Baseline p−tau217, log pg/ml"},
   "y":{"field":"fit","type":"quantitative","scale":{"domain":[-3.5,14],"nice":false,"zero":false},"title":"Annual MMSE decline"}}},
  {"data":{"name":"ann"},"transform":[{"filter":"datum.p==='A'"}],"mark":{"type":"text","fontSize":10.3,"color":"#111","align":"center","baseline":"middle"},
   "encoding":{"x":{"field":"x","type":"quantitative","scale":{"domain":[-1.18,0.78],"nice":false,"zero":false},"title":"Baseline p−tau217, log pg/ml"},
   "y":{"field":"y","type":"quantitative","scale":{"domain":[-3.5,14],"nice":false,"zero":false},"title":"Annual MMSE decline"},"text":{"field":"t"}}}
 ]},
{"width":219,"height":219,"title":{"text":"(D)","dx":-42},
 "layer":[
  {"data":{"name":"lines"},"transform":[{"filter":"datum.p==='D'"}],"mark":{"type":"line","strokeWidth":2.6},
   "encoding":{"x":{"field":"t","type":"quantitative","scale":{"domain":[-0.76,15.8],"nice":false,"zero":false},"axis":{"values":[0,5,10,15]},"title":"Follow−up time, years"},
   "y":{"field":"m","type":"quantitative","scale":{"domain":[24.31,28.65],"nice":false,"zero":false},"axis":{"values":[25,26,27,28],"titleFontSize":15.5},"title":"MMSE"},
   "color":{"field":"q","type":"nominal","scale":{"domain":["Q1","Q2","Q3","Q4"],"range":["#2F4A50","#E8892E","#14A7E0","#B23A30"]},"legend":{"title":"Baseline p-tau217","orient":"none","legendX":15,"legendY":147}}}},
  {"data":{"name":"brk"},"transform":[{"filter":"datum.p==='D'"}],"mark":{"type":"rule","color":"#707070","strokeWidth":1,"clip":false},
   "encoding":{"x":{"field":"x","type":"quantitative","scale":{"domain":[-0.76,15.8],"nice":false,"zero":false},"title":"Follow−up time, years"},
   "y":{"field":"y1","type":"quantitative","scale":{"domain":[24.31,28.65],"nice":false,"zero":false},"title":"MMSE"},"y2":{"field":"y2"}}},
  {"data":{"name":"brk"},"transform":[{"filter":"datum.p==='D'"}],"mark":{"type":"text","angle":90,"align":"center","baseline":"middle","dy":-6,"fontSize":10,"color":"#111","clip":false},
   "encoding":{"x":{"field":"x","type":"quantitative","scale":{"domain":[-0.76,15.8],"nice":false,"zero":false},"title":"Follow−up time, years"},
   "y":{"field":"ym","type":"quantitative","scale":{"domain":[24.31,28.65],"nice":false,"zero":false},"title":"MMSE"},"text":{"field":"s"}}}
 ]},
{"width":219,"height":219,"title":{"text":"(B)","dx":-37},
 "layer":[
  {"data":{"name":"b"},"mark":{"type":"circle","size":19,"fill":"#F39B2B","stroke":"#0d0d0d","strokeWidth":0.7,"opacity":1},
   "encoding":{"x":{"field":"x","type":"quantitative","scale":{"domain":[-1.17,1.48],"nice":false,"zero":false},"axis":{"values":[-1,-0.5,0,0.5,1],"format":".1f"},"title":"Baseline p−tau181, log pg/ml"},
   "y":{"field":"y","type":"quantitative","scale":{"domain":[-3.5,14],"nice":false,"zero":false},"axis":{"values":[0,5,10],"titleY":94},"title":"Annual MMSE decline"}}},
  {"data":{"name":"fit"},"transform":[{"filter":"datum.p==='B'"}],"mark":{"type":"area","color":"#F0B070","opacity":0.55},
   "encoding":{"x":{"field":"x","type":"quantitative","scale":{"domain":[-1.17,1.48],"nice":false,"zero":false},"title":"Baseline p−tau181, log pg/ml"},
   "y":{"field":"lo","type":"quantitative","scale":{"domain":[-3.5,14],"nice":false,"zero":false},"title":"Annual MMSE decline"},"y2":{"field":"hi"}}},
  {"data":{"name":"fit"},"transform":[{"filter":"datum.p==='B'"}],"mark":{"type":"line","color":"#E58A3A","strokeWidth":2.6},
   "encoding":{"x":{"field":"x","type":"quantitative","scale":{"domain":[-1.17,1.48],"nice":false,"zero":false},"title":"Baseline p−tau181, log pg/ml"},
   "y":{"field":"fit","type":"quantitative","scale":{"domain":[-3.5,14],"nice":false,"zero":false},"title":"Annual MMSE decline"}}},
  {"data":{"name":"ann"},"transform":[{"filter":"datum.p==='B'"}],"mark":{"type":"text","fontSize":10.3,"color":"#111","align":"center","baseline":"middle"},
   "encoding":{"x":{"field":"x","type":"quantitative","scale":{"domain":[-1.17,1.48],"nice":false,"zero":false},"title":"Baseline p−tau181, log pg/ml"},
   "y":{"field":"y","type":"quantitative","scale":{"domain":[-3.5,14],"nice":false,"zero":false},"title":"Annual MMSE decline"},"text":{"field":"t"}}}
 ]},
{"width":219,"height":219,"title":{"text":"(E)","dx":-42},
 "layer":[
  {"data":{"name":"lines"},"transform":[{"filter":"datum.p==='E'"}],"mark":{"type":"line","strokeWidth":2.6},
   "encoding":{"x":{"field":"t","type":"quantitative","scale":{"domain":[-0.76,15.8],"nice":false,"zero":false},"axis":{"values":[0,5,10,15]},"title":"Follow−up time, years"},
   "y":{"field":"m","type":"quantitative","scale":{"domain":[24.13,28.58],"nice":false,"zero":false},"axis":{"values":[25,26,27,28],"titleFontSize":15.5},"title":"MMSE"},
   "color":{"field":"q","type":"nominal","scale":{"domain":["Q1","Q2","Q3","Q4"],"range":["#2F4A50","#E8892E","#14A7E0","#B23A30"]},"legend":{"title":"Baseline p-tau181","orient":"none","legendX":15,"legendY":147}}}},
  {"data":{"name":"brk"},"transform":[{"filter":"datum.p==='E'"}],"mark":{"type":"rule","color":"#707070","strokeWidth":1,"clip":false},
   "encoding":{"x":{"field":"x","type":"quantitative","scale":{"domain":[-0.76,15.8],"nice":false,"zero":false},"title":"Follow−up time, years"},
   "y":{"field":"y1","type":"quantitative","scale":{"domain":[24.13,28.58],"nice":false,"zero":false},"title":"MMSE"},"y2":{"field":"y2"}}},
  {"data":{"name":"brk"},"transform":[{"filter":"datum.p==='E'"}],"mark":{"type":"text","angle":90,"align":"center","baseline":"middle","dy":-6,"fontSize":10,"color":"#111","clip":false},
   "encoding":{"x":{"field":"x","type":"quantitative","scale":{"domain":[-0.76,15.8],"nice":false,"zero":false},"title":"Follow−up time, years"},
   "y":{"field":"ym","type":"quantitative","scale":{"domain":[24.13,28.58],"nice":false,"zero":false},"title":"MMSE"},"text":{"field":"s"}}}
 ]},
{"width":219,"height":219,"title":{"text":"(C)","dx":-37},
 "layer":[
  {"data":{"name":"c"},"mark":{"type":"circle","size":19,"fill":"#1DA6E0","stroke":"#0d0d0d","strokeWidth":0.7,"opacity":1},
   "encoding":{"x":{"field":"x","type":"quantitative","scale":{"domain":[0.048,2.37],"nice":false,"zero":false},"axis":{"values":[0.5,1,1.5,2],"format":".1f"},"title":"Baseline NfL, log pg/ml"},
   "y":{"field":"y","type":"quantitative","scale":{"domain":[-3.4,14],"nice":false,"zero":false},"axis":{"values":[0,5,10],"titleY":94},"title":"Annual MMSE decline"}}},
  {"data":{"name":"fit"},"transform":[{"filter":"datum.p==='C'"}],"mark":{"type":"area","color":"#70C4EC","opacity":0.55},
   "encoding":{"x":{"field":"x","type":"quantitative","scale":{"domain":[0.048,2.37],"nice":false,"zero":false},"title":"Baseline NfL, log pg/ml"},
   "y":{"field":"lo","type":"quantitative","scale":{"domain":[-3.4,14],"nice":false,"zero":false},"title":"Annual MMSE decline"},"y2":{"field":"hi"}}},
  {"data":{"name":"fit"},"transform":[{"filter":"datum.p==='C'"}],"mark":{"type":"line","color":"#1EA0DA","strokeWidth":2.6},
   "encoding":{"x":{"field":"x","type":"quantitative","scale":{"domain":[0.048,2.37],"nice":false,"zero":false},"title":"Baseline NfL, log pg/ml"},
   "y":{"field":"fit","type":"quantitative","scale":{"domain":[-3.4,14],"nice":false,"zero":false},"title":"Annual MMSE decline"}}},
  {"data":{"name":"ann"},"transform":[{"filter":"datum.p==='C'"}],"mark":{"type":"text","fontSize":10.3,"color":"#111","align":"center","baseline":"middle"},
   "encoding":{"x":{"field":"x","type":"quantitative","scale":{"domain":[0.048,2.37],"nice":false,"zero":false},"title":"Baseline NfL, log pg/ml"},
   "y":{"field":"y","type":"quantitative","scale":{"domain":[-3.4,14],"nice":false,"zero":false},"title":"Annual MMSE decline"},"text":{"field":"t"}}}
 ]},
{"width":219,"height":219,"title":{"text":"(F)","dx":-42},
 "layer":[
  {"data":{"name":"lines"},"transform":[{"filter":"datum.p==='F'"}],"mark":{"type":"line","strokeWidth":2.6},
   "encoding":{"x":{"field":"t","type":"quantitative","scale":{"domain":[-0.76,15.8],"nice":false,"zero":false},"axis":{"values":[0,5,10,15]},"title":"Follow−up time, years"},
   "y":{"field":"m","type":"quantitative","scale":{"domain":[23.3,28.72],"nice":false,"zero":false},"axis":{"values":[24,25,26,27,28],"titleFontSize":15.5},"title":"MMSE"},
   "color":{"field":"q","type":"nominal","scale":{"domain":["Q1","Q2","Q3","Q4"],"range":["#2F4A50","#E8892E","#14A7E0","#B23A30"]},"legend":{"title":"Baseline NfL","orient":"none","legendX":15,"legendY":147}}}},
  {"data":{"name":"brk"},"transform":[{"filter":"datum.p==='F'"}],"mark":{"type":"rule","color":"#707070","strokeWidth":1,"clip":false},
   "encoding":{"x":{"field":"x","type":"quantitative","scale":{"domain":[-0.76,15.8],"nice":false,"zero":false},"title":"Follow−up time, years"},
   "y":{"field":"y1","type":"quantitative","scale":{"domain":[23.3,28.72],"nice":false,"zero":false},"title":"MMSE"},"y2":{"field":"y2"}}},
  {"data":{"name":"brk"},"transform":[{"filter":"datum.p==='F'"}],"mark":{"type":"text","angle":90,"align":"center","baseline":"middle","dy":-6,"fontSize":10,"color":"#111","clip":false},
   "encoding":{"x":{"field":"x","type":"quantitative","scale":{"domain":[-0.76,15.8],"nice":false,"zero":false},"title":"Follow−up time, years"},
   "y":{"field":"ym","type":"quantitative","scale":{"domain":[23.3,28.72],"nice":false,"zero":false},"title":"MMSE"},"text":{"field":"s"}}}
 ]}
]
}
